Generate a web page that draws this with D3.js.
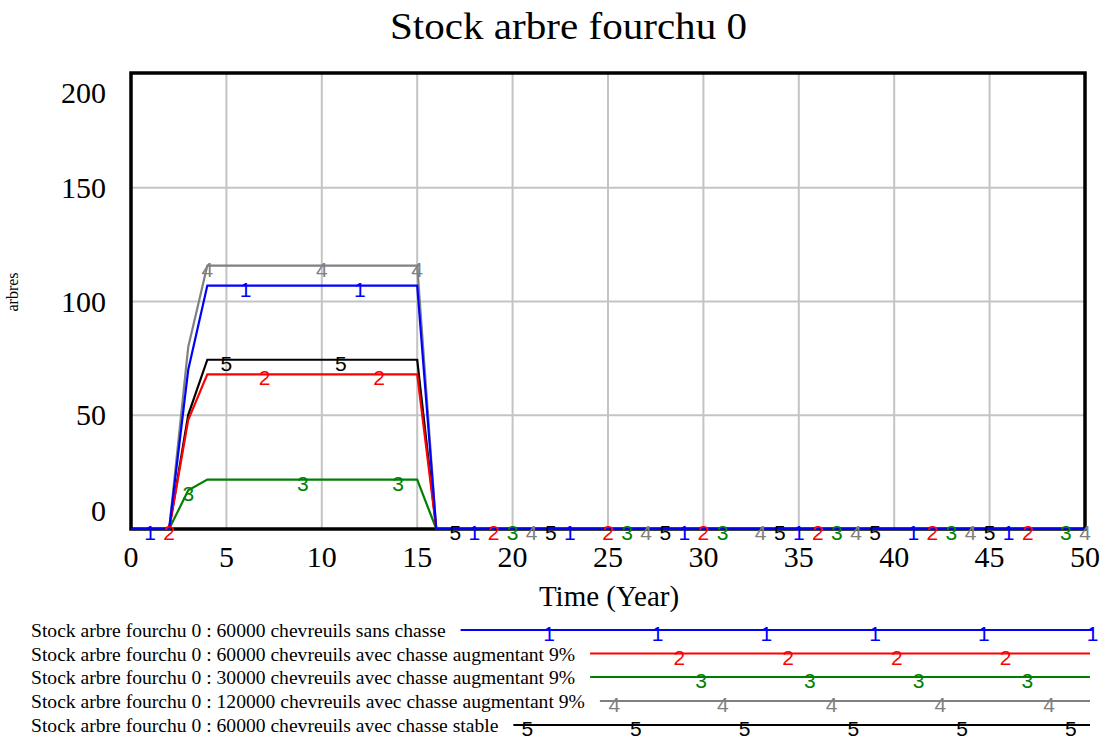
<!DOCTYPE html>
<html><head><meta charset="utf-8">
<script src="https://cdn.jsdelivr.net/npm/d3@7"></script>
<style>body{margin:0;background:#fff}svg{display:block}</style>
</head><body>
<svg id="c" width="1101" height="738"></svg>
<script>
// ---- data ----
const years = [0,1,2,3,4,5,6,7,8,9,10,11,12,13,14,15,16,17,18,19,20,21,22,23,24,25,26,27,28,29,30,31,32,33,34,35,36,37,38,39,40,41,42,43,44,45,46,47,48,49,50];
const s1 = [0,0,0,70,107,107,107,107,107,107,107,107,107,107,107,107,0,0,0,0,0,0,0,0,0,0,0,0,0,0,0,0,0,0,0,0,0,0,0,0,0,0,0,0,0,0,0,0,0,0,0];
const s2 = [0,0,0,48,68,68,68,68,68,68,68,68,68,68,68,68,0,0,0,0,0,0,0,0,0,0,0,0,0,0,0,0,0,0,0,0,0,0,0,0,0,0,0,0,0,0,0,0,0,0,0];
const s3 = [0,0,0,17,21.7,21.7,21.7,21.7,21.7,21.7,21.7,21.7,21.7,21.7,21.7,21.7,0,0,0,0,0,0,0,0,0,0,0,0,0,0,0,0,0,0,0,0,0,0,0,0,0,0,0,0,0,0,0,0,0,0,0];
const s4 = [0,0,0,80,115.8,115.8,115.8,115.8,115.8,115.8,115.8,115.8,115.8,115.8,115.8,115.8,0,0,0,0,0,0,0,0,0,0,0,0,0,0,0,0,0,0,0,0,0,0,0,0,0,0,0,0,0,0,0,0,0,0,0];
const s5 = [0,0,0,50.2,74.4,74.4,74.4,74.4,74.4,74.4,74.4,74.4,74.4,74.4,74.4,74.4,0,0,0,0,0,0,0,0,0,0,0,0,0,0,0,0,0,0,0,0,0,0,0,0,0,0,0,0,0,0,0,0,0,0,0];
const markers1 = [1,6,12,18,23,29,35,41,46];
const markers2 = [2,7,13,19,25,30,36,42,47];
const markers3 = [3,9,14,20,26,31,37,43,49];
const markers4 = [4,10,15,21,27,33,38,44,50];
const markers5 = [5,11,17,22,28,34,39,45];
const seriesNames = [
  "Stock arbre fourchu 0 : 60000 chevreuils sans chasse",
  "Stock arbre fourchu 0 : 60000 chevreuils avec chasse augmentant 9%",
  "Stock arbre fourchu 0 : 30000 chevreuils avec chasse augmentant 9%",
  "Stock arbre fourchu 0 : 120000 chevreuils avec chasse augmentant 9%",
  "Stock arbre fourchu 0 : 60000 chevreuils avec chasse stable"
];
const seriesLabels = ["1","2","3","4","5"];
const xTicks = [0,5,10,15,20,25,30,35,40,45,50];
const yTicks = [0,50,100,150,200];
const title = "Stock arbre fourchu 0";
const xTitle = "Time (Year)";
const yTitle = "arbres";

// ---- styles ----
const colors = ["#0000ff","#ff0000","#008000","#808080","#000000"];
const serif = "'Liberation Serif','Times New Roman',serif";
const sans = "'Liberation Sans',Arial,sans-serif";

const series = [s1,s2,s3,s4,s5];
const markers = [markers1,markers2,markers3,markers4,markers5];

const svg = d3.select("#c");
const L = 131, R = 1085, T = 74, B = 529;
const x = d3.scaleLinear().domain([0,50]).range([L,R]);
const y = d3.scaleLinear().domain([0,200]).range([B,T]);

// title
svg.append("text").attr("x",568.5).attr("y",39).attr("text-anchor","middle")
  .attr("textLength",357).attr("lengthAdjust","spacingAndGlyphs")
  .style("font-family",serif).style("font-size","38px").text(title);

// grid
const g = svg.append("g");
g.selectAll("line.v").data(xTicks.slice(1,-1)).enter().append("line")
  .attr("x1",d=>x(d)).attr("x2",d=>x(d)).attr("y1",T).attr("y2",B)
  .attr("stroke","#c4c4c4").attr("stroke-width",2);
g.selectAll("line.h").data(yTicks.slice(1,-1)).enter().append("line")
  .attr("x1",L).attr("x2",R).attr("y1",d=>y(d)).attr("y2",d=>y(d))
  .attr("stroke","#c4c4c4").attr("stroke-width",2);

// frame
svg.append("rect").attr("x",L).attr("y",T-1).attr("width",R-L).attr("height",B-T+1)
  .attr("fill","none").attr("stroke","#000").attr("stroke-width",3.5);

// y tick labels
svg.selectAll("text.yt").data(yTicks).enter().append("text")
  .attr("x",106).attr("text-anchor","end")
  .attr("y",d=> d===0 ? y(d)-8 : d===200 ? y(d)+29 : y(d)+10)
  .style("font-family",serif).style("font-size","30px").text(d=>d);

// x tick labels
svg.selectAll("text.xt").data(xTicks).enter().append("text")
  .attr("x",d=>x(d)).attr("y",567).attr("text-anchor","middle")
  .style("font-family",serif).style("font-size","30px").text(d=>d);

svg.append("text").attr("x",609).attr("y",606).attr("text-anchor","middle")
  .style("font-family",serif).style("font-size","29px").text(xTitle);
svg.append("text").attr("transform","translate(18,292) rotate(-90)").attr("text-anchor","middle")
  .style("font-family",serif).style("font-size","16px").text(yTitle);

// lines
const line = d3.line().x((d,i)=>x(years[i])).y(d=>y(d));
for (let k=4;k>=0;k--){
  svg.append("path").attr("d",line(series[k])).attr("fill","none")
    .attr("stroke",colors[k]).attr("stroke-width",2.2).attr("stroke-linejoin","miter");
}
for (let k=4;k>=0;k--){
  svg.selectAll(null).data(markers[k]).enter().append("text")
    .attr("x",t=>x(t)).attr("y",t=>y(series[k][years.indexOf(t)])+11)
    .attr("text-anchor","middle").attr("fill",colors[k])
    .style("font-family",sans).style("font-size","21px").text(seriesLabels[k]);
}

// legend
const legBase = [637,660.5,684,708,732];
const legEnd = 1090, legStep = 108.7, legOrigin = 549;
seriesNames.forEach((name,k)=>{
  const t = svg.append("text").attr("x",31).attr("y",legBase[k])
    .style("font-family",serif).style("font-size","19.6px").text(name);
  const start = 31 + t.node().getComputedTextLength() + 15;
  const ly = legBase[k]-7;
  svg.append("line").attr("x1",start).attr("x2",k===0?legEnd+3:legEnd).attr("y1",ly).attr("y2",ly)
    .attr("stroke",colors[k]).attr("stroke-width",2.2);
  const pos = [];
  for (let m=-6;m<=6;m++){
    const px = legOrigin + k*legStep/5 + m*legStep;
    if (px >= start + 10 && px <= legEnd + 5) pos.push(px);
  }
  svg.selectAll(null).data(pos).enter().append("text")
    .attr("x",d=>d).attr("y",ly+11).attr("text-anchor","middle").attr("fill",colors[k])
    .style("font-family",sans).style("font-size","21px").text(seriesLabels[k]);
});
</script>
</body></html>
